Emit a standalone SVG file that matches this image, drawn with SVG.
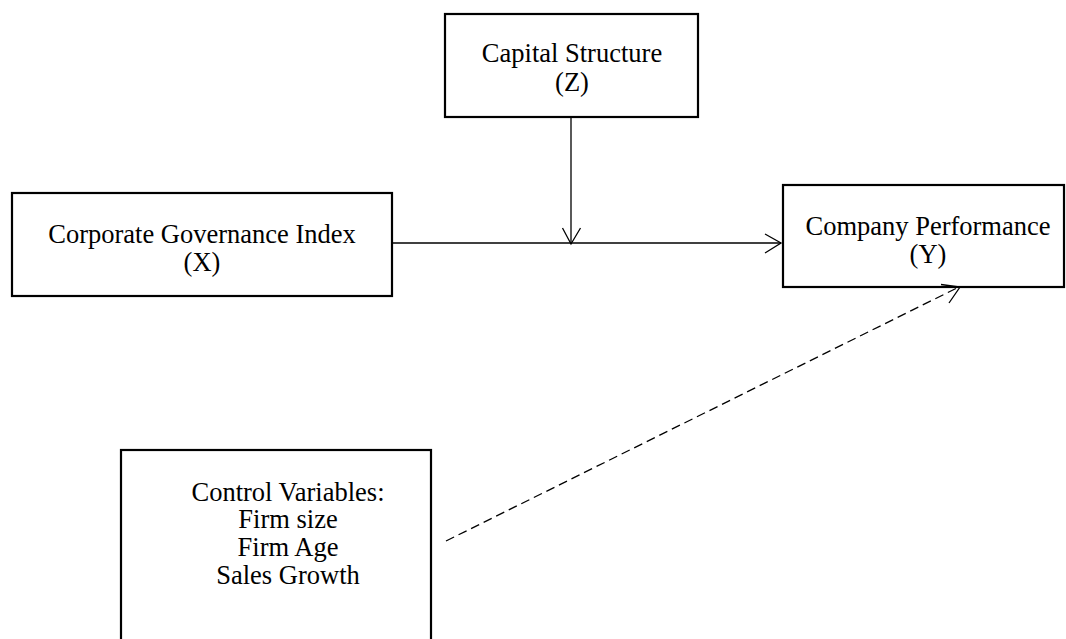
<svg xmlns="http://www.w3.org/2000/svg" width="1066" height="639" viewBox="0 0 1066 639">
<style>
.box{fill:#fff;stroke:#000;stroke-width:2.2}
.t{font-family:"Liberation Serif","Times New Roman",serif;font-size:26.5px;fill:#000;text-anchor:middle}
.c{fill:none;stroke:#000;stroke-width:1.3}
.d{stroke-dasharray:9 5}
.h{fill:none;stroke:#000;stroke-width:1.3}
</style>
<rect width="1066" height="639" fill="#fff"/>
<g id="node-z">
<rect class="box" x="445" y="14" width="253" height="103"/>
<text class="t" x="572" y="62">Capital Structure</text>
<text class="t" x="572" y="91">(Z)</text>
</g>
<g id="node-x">
<rect class="box" x="12" y="193" width="380" height="103"/>
<text class="t" x="202" y="243">Corporate Governance Index</text>
<text class="t" x="202" y="271">(X)</text>
</g>
<g id="node-y">
<rect class="box" x="783" y="185" width="281" height="102"/>
<text class="t" x="928" y="235">Company Performance</text>
<text class="t" x="928" y="263">(Y)</text>
</g>
<g id="node-control">
<rect class="box" x="121" y="450" width="310" height="200"/>
<text class="t" x="288" y="501">Control Variables:</text>
<text class="t" x="288" y="528">Firm size</text>
<text class="t" x="288" y="556">Firm Age</text>
<text class="t" x="288" y="584">Sales Growth</text>
</g>
<g id="connectors">
<line class="c" x1="571" y1="117" x2="571" y2="244"/>
<polyline class="h" points="562.5,228 571,244 580.5,228"/>
<line class="c" x1="392" y1="243" x2="781" y2="243"/>
<polyline class="h" points="765,234 781,243 765,253"/>
<line class="c d" x1="446" y1="541" x2="959" y2="287"/>
<polyline class="h" points="941,284.5 960,287 949,303"/>
</g>
</svg>
